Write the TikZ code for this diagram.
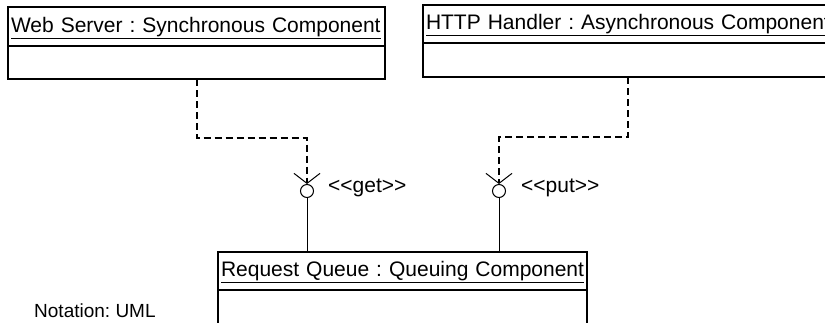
\documentclass[tikz,border=0pt]{standalone}
\usepackage{fontspec}
\setmainfont{Liberation Sans}
\usetikzlibrary{arrows.meta}
\frenchspacing

\begin{document}
\begin{tikzpicture}[x=1pt, y=-1pt,
    comptitle/.style={draw, line width=2pt, outer sep=0pt, anchor=north west, inner xsep=3pt, inner ysep=0pt,
      text height=15pt, text depth=4pt, align=left, font=\fontsize{21}{25}\selectfont},
    compbody/.style={draw, line width=2pt, outer sep=0pt, anchor=north, inner sep=0pt},
    dep/.style={line width=2pt, dash pattern=on 7pt off 4pt,
      -{Straight Barb[line width=1pt, length=10pt, width=26pt]}},
    socket/.style={circle, draw, line width=1pt, minimum size=13pt, inner sep=0pt},
    stereo/.style={anchor=base west, inner sep=0pt, font=\fontsize{21}{25}\selectfont}]
  \useasboundingbox (0,0) rectangle (825,322);

  % Components
  \node[comptitle, text width=371pt, minimum height=39pt] (web) at (8,7)
    {\underline{Web Server : Synchronous Component}};
  \node[compbody, minimum width=377pt, minimum height=33pt] (webbody) at (web.south) {};

  \node[comptitle, text width=404pt, minimum height=38pt] (http) at (423,5)
    {\underline{HTTP Handler : Asynchronous Component}};
  \node[compbody, minimum width=410pt, minimum height=34pt] (httpbody) at (http.south) {};

  \node[comptitle, text width=363pt, minimum height=38pt] (queue) at (218,252)
    {\underline{Request Queue : Queuing Component}};
  \node[compbody, minimum width=369pt, minimum height=40pt] (queuebody) at (queue.south) {};

  % Provided interfaces
  \node[socket] (getsock) at (307,191) {};
  \node[socket] (putsock) at (499,191) {};
  \node[stereo] (getlbl) at (328,192) {<\kern0pt<get>\kern0pt>};
  \node[stereo] (putlbl) at (521,192) {<\kern0pt<put>\kern0pt>};

  \draw[dep] (webbody.south) -- ++(0,59) -| (getsock.north);
  \draw[dep] (httpbody.south) -- ++(0,60) -| (putsock.north);
  \draw[line width=1pt] (getsock.south) -- (getsock.south |- queue.north);
  \draw[line width=1pt] (putsock.south) -- (putsock.south |- queue.north);

  \node[anchor=base west, inner sep=0pt, font=\fontsize{19}{22}\selectfont] (notation) at (34,317)
    {Notation: UML};
\end{tikzpicture}
\end{document}
